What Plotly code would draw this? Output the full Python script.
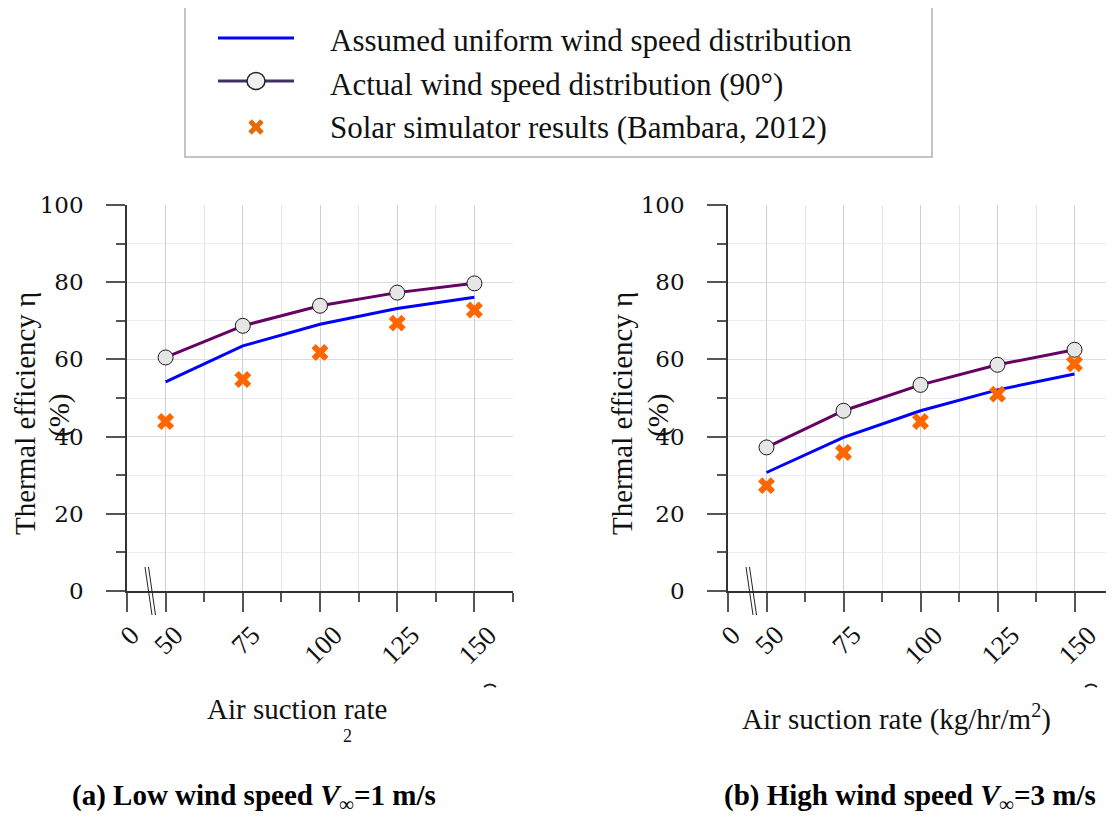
import plotly.graph_objects as go

# ---------------- data ----------------
air_suction = [50, 75, 100, 125, 150]                 # kg/hr/m2
tick_labels = ["0", "50", "75", "100", "125", "150"]  # x tick labels (broken axis)

low_uniform = [54.2, 63.5, 69.1, 73.2, 76.1]
low_actual = [60.5, 68.7, 73.9, 77.3, 79.7]
low_sim = [43.9, 54.8, 61.8, 69.4, 72.8]

high_uniform = [30.7, 39.8, 46.7, 52.1, 56.2]
high_actual = [37.2, 46.7, 53.4, 58.6, 62.5]
high_sim = [27.3, 35.9, 43.9, 51.0, 58.9]

series_names = [
    "Assumed uniform wind speed distribution",
    "Actual wind speed distribution (90°)",
    "Solar simulator results (Bambara, 2012)",
]
captions = [
    "<b>(a) Low wind speed <i>V</i><sub>∞</sub>=1 m/s</b>",
    "<b>(b) High wind speed <i>V</i><sub>∞</sub>=3 m/s</b>",
]

# category positions on the (broken) linear axis
pos = [i + 1 for i in range(len(air_suction))]
tick_pos = [0.5] + pos
minor_pos = [p + 0.5 for p in pos]

# the page body has an 8px margin, so the figure is 8px smaller and all
# page positions are shifted by 8px
OFF = 8
W, H = 1114 - OFF, 820 - OFF
def px(x):
    return (x - OFF) / W
def py(y):
    return 1 - (y - OFF) / H

BLUE = "#0000ff"
PURPLE = "#660066"
ORANGE = "#ff6600"
SERIF = "Liberation Serif"

fig = go.Figure()

panels = [
    ("x", "y", low_uniform, low_actual, low_sim),
    ("x2", "y2", high_uniform, high_actual, high_sim),
]
for xa, ya, uni, act, sim in panels:
    fig.add_trace(go.Scatter(x=pos, y=uni, mode="lines", xaxis=xa, yaxis=ya,
                             line=dict(color=BLUE, width=3), name=series_names[0],
                             showlegend=False))
    fig.add_trace(go.Scatter(x=pos, y=act, mode="lines+markers", xaxis=xa, yaxis=ya,
                             line=dict(color=PURPLE, width=3),
                             marker=dict(symbol="circle", size=15, color="#e6e6e6",
                                         line=dict(color="#1a1a1a", width=1)),
                             name=series_names[1], showlegend=False))
    fig.add_trace(go.Scatter(x=pos, y=sim, mode="markers", xaxis=xa, yaxis=ya,
                             marker=dict(symbol="x", size=15, color=ORANGE,
                                         line=dict(width=0)),
                             name=series_names[2], showlegend=False))

x_domains = [[px(127), px(513)], [px(728), px(1113)]]
y_domain = [py(591), py(205)]

def xaxis_cfg(domain, anchor):
    return dict(domain=domain, anchor=anchor, range=[0.5, 5.5],
                tickmode="array", tickvals=tick_pos, ticktext=tick_labels,
                showticklabels=False, ticks="outside", ticklen=19, tickwidth=1.5,
                tickcolor="#555555", showline=True, linecolor="#333333", linewidth=1.5,
                showgrid=True, gridcolor="#cfcfcf", gridwidth=1, zeroline=False,
                minor=dict(tickmode="array", tickvals=minor_pos, ticks="outside",
                           ticklen=9, tickwidth=1.5, tickcolor="#555555",
                           showgrid=True, gridcolor="#e6e6e6", gridwidth=1),
                fixedrange=True)

def yaxis_cfg(anchor):
    return dict(domain=y_domain, anchor=anchor, range=[0, 100],
                tickmode="array", tickvals=[0, 20, 40, 60, 80, 100],
                ticks="outside", ticklen=19, tickwidth=1.5, tickcolor="#555555",
                showline=True, linecolor="#333333", linewidth=1.5,
                showgrid=True, gridcolor="#dcdcdc", gridwidth=1, zeroline=False,
                tickfont=dict(family="DejaVu Serif", size=23, color="#111111"),
                ticklabelstandoff=18,
                minor=dict(dtick=10, tick0=0, ticks="outside", ticklen=9, tickwidth=1.5,
                           tickcolor="#555555", showgrid=True, gridcolor="#ececec",
                           gridwidth=1),
                fixedrange=True)

annotations = []
shapes = []

# x tick labels (rotated, centred under ticks)
for xa, ya in [("x", "y"), ("x2", "y2")]:
    for tp, tl in zip(tick_pos, tick_labels):
        annotations.append(dict(x=tp, xref=xa, y=y_domain[0], yref="paper",
                                text=tl, showarrow=False, textangle=-45,
                                xanchor="center", yanchor="top", xshift=3, yshift=-26,
                                font=dict(family=SERIF, size=27, color="#111111")))

# y axis titles
for x1, x2 in [(25, 59), (622, 658)]:
    annotations.append(dict(x=px(x1), y=py(414), xref="paper", yref="paper",
                            text="Thermal efficiency η", textangle=-90, showarrow=False,
                            xanchor="center", yanchor="middle",
                            font=dict(family=SERIF, size=29, color="#111111")))
    annotations.append(dict(x=px(x2), y=py(416), xref="paper", yref="paper",
                            text="(%)", textangle=-90, showarrow=False,
                            xanchor="center", yanchor="middle",
                            font=dict(family=SERIF, size=29, color="#111111")))

# x axis titles
annotations.append(dict(x=px(297), y=py(709), xref="paper", yref="paper",
                        text="Air suction rate", showarrow=False,
                        xanchor="center", yanchor="middle",
                        font=dict(family=SERIF, size=29, color="#111111")))
annotations.append(dict(x=px(347), y=py(736), xref="paper", yref="paper",
                        text="2", showarrow=False, xanchor="center", yanchor="middle",
                        font=dict(family=SERIF, size=18, color="#111111")))
annotations.append(dict(x=px(896), y=py(717), xref="paper", yref="paper",
                        text="Air suction rate (kg/hr/m<sup>2</sup>)", showarrow=False,
                        xanchor="center", yanchor="middle",
                        font=dict(family=SERIF, size=29, color="#111111")))

# captions
for cx, cap in zip([254, 910], captions):
    annotations.append(dict(x=px(cx), y=py(797), xref="paper", yref="paper",
                            text=cap, showarrow=False, xanchor="center", yanchor="middle",
                            font=dict(family=SERIF, size=29, color="#000000")))

# axis break marks (double slash)
for x0 in [145, 746]:
    for dx in [0, 3.5]:
        shapes.append(dict(type="line", xref="paper", yref="paper",
                           x0=px(x0 + dx), y0=py(567), x1=px(x0 + dx + 7), y1=py(615),
                           line=dict(color="#222222", width=1)))

# partially clipped glyph remnants near axis ends
for cx in [490, 1091]:
    shapes.append(dict(type="path", xref="paper", yref="paper",
                       path=f"M {px(cx-6)},{py(687)} Q {px(cx)},{py(682)} {px(cx+6)},{py(687)}",
                       line=dict(color="#222222", width=2)))

# ---------------- legend (drawn manually) ----------------
shapes.append(dict(type="rect", xref="paper", yref="paper",
                   x0=px(185), y0=py(7), x1=px(932), y1=py(157),
                   line=dict(color="#c4c4c4", width=2), fillcolor="rgba(0,0,0,0)"))
shapes.append(dict(type="line", xref="paper", yref="paper",
                   x0=px(218), y0=py(38), x1=px(294), y1=py(38),
                   line=dict(color=BLUE, width=3)))
shapes.append(dict(type="line", xref="paper", yref="paper",
                   x0=px(218), y0=py(81), x1=px(294), y1=py(81),
                   line=dict(color="#3f3060", width=3)))
shapes.append(dict(type="circle", xref="paper", yref="paper",
                   x0=px(247), y0=py(72.5), x1=px(265), y1=py(89.5),
                   fillcolor="#f0f0f0", line=dict(color="#222222", width=1.5)))
for (a0, b0, a1, b1) in [(-6, -6, 6, 6), (-6, 6, 6, -6)]:
    shapes.append(dict(type="line", xref="paper", yref="paper",
                       x0=px(256 + a0), y0=py(127 + b0), x1=px(256 + a1), y1=py(127 + b1),
                       line=dict(color="#e36c09", width=5)))
for ty, name in zip([41, 84, 127], series_names):
    annotations.append(dict(x=px(328), y=py(ty), xref="paper", yref="paper",
                            text=name, showarrow=False, xanchor="left", yanchor="middle",
                            font=dict(family=SERIF, size=31, color="#111111")))

fig.update_layout(
    width=W, height=H,
    margin=dict(l=0, r=0, t=0, b=0, pad=0, autoexpand=False),
    paper_bgcolor="white", plot_bgcolor="white",
    showlegend=False,
    xaxis=xaxis_cfg(x_domains[0], "y"),
    yaxis=yaxis_cfg("x"),
    xaxis2=xaxis_cfg(x_domains[1], "y2"),
    yaxis2=yaxis_cfg("x2"),
    annotations=annotations,
    shapes=shapes,
    font=dict(family=SERIF, color="#111111"),
)

fig.write_html("out.html")
